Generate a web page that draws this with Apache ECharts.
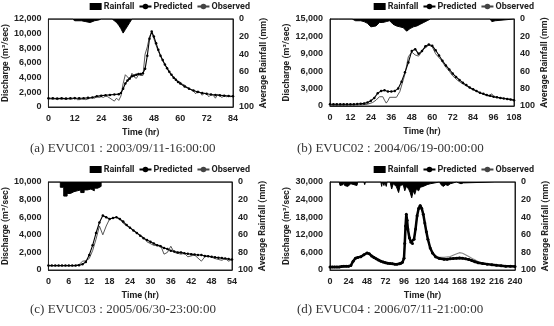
<!DOCTYPE html>
<html><head><meta charset="utf-8">
<script src="https://cdn.jsdelivr.net/npm/echarts@6/dist/echarts.min.js"></script>
<style>html,body{margin:0;padding:0;background:#fff}#c{width:554px;height:326px}</style>
</head><body><div id="c"></div>
<script>
// ---------- Data ----------
const captions = ['(a) EVUC01 : 2003/09/11-16:00:00','(b) EVUC02 : 2004/06/19-00:00:00','(c) EVUC03 : 2005/06/30-23:00:00','(d) EVUC04 : 2006/07/11-21:00:00'];
const xMaxes = [84,108,54,240];
const xSteps = [12,12,6,24];
const qMaxes = [12000,15000,10000,30000];
const qSteps = [2000,3000,2000,6000];

// (a) EVUC01
const rainA = [[0,0],[11,0],[12,2],[15,2],[17,3],[19,4],[21,2],[23,1],[24,0],[29,0],[30,2],[31,4],[32,7],[33,11],[34,16],[35,12],[36,8],[37,4],[38,0],[84,0]];
const obsA = [[0,1100],[1,1100],[2,1050],[3,1100],[4,1000],[5,1100],[6,1050],[7,1100],[8,1000],[9,1100],[10,1050],[11,1100],[12,1350],[13,1000],[14,1000],[15,1050],[16,1100],[17,1000],[18,1100],[19,1200],[20,1300],[21,1200],[22,1400],[23,1300],[24,1400],[25,1300],[26,1500],[27,1400],[28,1200],[29,1000],[30,800],[31,1200],[32,900],[33,1500],[34,3200],[35,4400],[36,4100],[37,3700],[38,4600],[39,4100],[40,3900],[41,4400],[42,4300],[43,4300],[44,7200],[45,8200],[46,9600],[47,10200],[48,9300],[49,8400],[50,7600],[51,7000],[52,6300],[53,5800],[54,5200],[55,4800],[56,4300],[57,4100],[58,3800],[59,3500],[60,3400],[61,3100],[62,3000],[63,2700],[64,2600],[65,2300],[66,2200],[67,1800],[68,2200],[69,2000],[70,1600],[71,1900],[72,1800],[73,1400],[74,1700],[75,1600],[76,1200],[77,1700],[78,1500],[79,1300],[80,1600],[81,1400],[82,1500],[83,1400],[84,1500]];
const predA = [[0,1200],[2,1200],[4,1150],[6,1200],[8,1150],[10,1200],[12,1200],[14,1200],[16,1200],[18,1250],[20,1300],[22,1450],[24,1550],[26,1600],[28,1650],[30,1700],[32,1750],[33,1900],[34,2500],[35,3200],[36,3600],[37,3900],[38,4200],[39,4300],[40,4400],[41,4500],[42,4500],[43,4600],[44,5200],[45,7000],[46,9300],[47,10300],[48,9600],[49,8700],[50,7800],[51,7000],[52,6400],[53,5800],[54,5300],[55,4800],[56,4400],[57,4000],[58,3700],[59,3400],[60,3200],[62,2800],[64,2500],[66,2250],[68,2050],[70,1900],[72,1800],[74,1700],[76,1650],[78,1600],[80,1550],[82,1500],[84,1450]];

// (b) EVUC02
const rainB = [[0,0],[5,0],[6,1],[7,0],[13,0],[15,2],[18,2],[20,3],[22,5],[24,9],[25,11],[27,8],[29,4],[31,4],[33,3],[35,2],[37,6],[39,8],[41,9],[43,10],[45,14],[47,11],[49,9],[51,8],[53,6],[55,4],[57,2],[59,0],[94,0],[95,3],[96,5],[97,2],[98,0],[108,0]];
const obsB = [[0,100],[6,100],[12,150],[18,200],[22,300],[25,600],[27,1000],[29,1600],[31,1600],[32,1000],[33,500],[34,900],[35,1500],[37,1500],[39,1500],[41,2500],[43,4500],[44,5500],[46,8500],[48,9300],[50,8800],[52,8600],[55,9800],[58,10500],[60,10200],[62,9000],[65,8000],[68,6700],[70,6000],[72,5200],[75,4400],[78,3800],[81,3300],[84,2800],[87,2400],[90,2000],[93,1700],[95,2100],[96,1600],[99,1400],[102,1300],[105,1200],[108,1100]];
const predB = [[0,300],[2,300],[4,300],[6,300],[8,300],[10,300],[12,300],[14,300],[16,350],[18,400],[20,450],[22,600],[24,900],[26,1400],[28,2200],[30,2600],[32,2700],[34,2500],[36,2500],[38,2600],[40,3000],[42,4200],[44,5800],[46,7500],[48,9500],[50,9800],[52,9000],[54,9500],[56,10300],[58,10600],[60,10400],[62,9600],[64,8700],[66,7800],[68,7000],[70,6300],[72,5600],[74,5000],[76,4500],[78,4000],[80,3600],[82,3200],[84,2900],[86,2600],[88,2300],[90,2100],[92,1900],[94,1750],[96,1600],[98,1500],[100,1400],[102,1300],[104,1200],[106,1100],[108,1000]];

// (c) EVUC03 (rain value at x holds for hour x..x+1)
const rainC = [[0,0],[3.5,6],[4.5,16],[5.5,13],[6.5,11],[7.5,10],[8.5,9],[9.5,12],[10.5,9],[11.5,8],[12.5,10],[13.5,7],[14.5,5],[15.5,0],[54,0]];
const obsC = [[0,500],[2,500],[4,500],[6,500],[8,500],[9,600],[10,1000],[11,1050],[12,1300],[13,2200],[14,3500],[15,5000],[16,4000],[17,5000],[18,5800],[20,6000],[21,5800],[22,5300],[24,4800],[26,4200],[28,3700],[29,3200],[31,2800],[33,2800],[34,1800],[35,2000],[36,2700],[37,2000],[39,1800],[40,1900],[41,1500],[43,1700],[45,1000],[46,1500],[47,1600],[49,1300],[51,1100],[52,1300],[53,1000],[54,1200]];
const predC = [[0,500],[1,500],[2,500],[3,500],[4,500],[5,500],[6,500],[7,500],[8,500],[9,550],[10,650],[11,900],[12,1700],[13,2800],[14,4200],[15,5400],[16,6200],[17,6000],[18,5800],[19,5900],[20,6000],[21,5800],[22,5500],[23,5100],[24,4800],[25,4500],[26,4200],[27,3900],[28,3600],[29,3400],[30,3200],[31,3000],[32,2800],[33,2700],[34,2500],[35,2400],[36,2200],[37,2100],[38,2000],[39,2000],[40,1900],[41,1850],[42,1800],[43,1750],[44,1700],[45,1700],[46,1600],[47,1550],[48,1500],[49,1450],[50,1400],[51,1350],[52,1300],[53,1250],[54,1200]];

// (d) EVUC04
const rainD = [[0,0],[12,0],[13,4],[15,5],[17,3],[18,0],[19,4],[21,2],[23,5],[25,3],[27,2],[29,4],[31,3],[33,2],[35,4],[36,0],[44,0],[45,3],[46,0],[66,0],[67,5],[68,0],[70,4],[71,0],[73,5],[74,0],[78,0],[80,8],[82,2],[84,3],[86,5],[89,12],[91,4],[93,6],[95,3],[97,10],[99,5],[102,8],[104,12],[106,18],[108,10],[110,14],[112,8],[115,10],[117,6],[119,8],[121,5],[123,4],[126,3],[130,2],[132,0],[142,0],[144,3],[147,5],[150,3],[153,4],[156,2],[158,0],[164,0],[166,2],[170,2],[173,1],[174,0],[214,0],[216,2],[218,0],[240,0]];
const obsD = [[0,1100],[12,1100],[18,1400],[24,1400],[27,1600],[30,3000],[33,4000],[36,4300],[40,4600],[44,5300],[48,5900],[51,5600],[54,4900],[60,3900],[66,3100],[72,2600],[78,2200],[84,2000],[90,2100],[94,2600],[96,4000],[97,9000],[98,15000],[99,18500],[100,17000],[101,14000],[103,11000],[105,9500],[107,9000],[109,10500],[111,14000],[113,18500],[115,21000],[117,22000],[119,21000],[121,19000],[123,16000],[125,13000],[127,10500],[130,7500],[133,5900],[137,4700],[142,4300],[148,4300],[156,4600],[162,5300],[168,5900],[172,5700],[180,4600],[186,3700],[192,2900],[198,2400],[204,2100],[216,1700],[228,1400],[240,1300]];
const predD = [[0,1000],[3,1000],[6,1000],[9,1000],[12,1000],[15,1200],[18,1300],[21,1300],[24,1300],[27,1500],[30,3000],[33,4000],[36,4300],[40,4500],[44,5200],[48,5800],[51,5500],[54,4800],[57,4300],[60,3800],[63,3400],[66,3000],[69,2700],[72,2500],[75,2300],[78,2200],[81,2100],[84,2000],[87,2000],[90,2100],[92,2300],[94,2600],[96,4000],[97,9000],[98,15000],[99,19000],[100,17000],[101,14000],[103,11000],[105,9500],[107,9000],[109,10500],[111,14000],[113,18500],[115,21000],[117,22000],[119,21000],[121,19000],[123,16000],[125,13000],[127,10500],[130,7500],[133,5800],[137,4500],[142,3900],[148,3700],[152,3700],[156,3800],[160,3900],[164,4000],[168,4100],[172,4000],[176,3800],[180,3600],[184,3200],[188,2800],[192,2500],[198,2200],[204,2000],[210,1800],[216,1600],[222,1450],[228,1300],[234,1250],[240,1200]];

const rains = [rainA, rainB, rainC, rainD];
const obss = [obsA, obsB, obsC, obsD];
const preds = [predA, predB, predC, predD];

// ---------- Layout ----------
const grids = [
  {left:48, width:185, top:19, height:88},
  {left:330, width:184, top:19, height:87},
  {left:48, width:184, top:182, height:88},
  {left:330, width:185, top:182, height:88}
];
const legendRight = [304, 20, 304, 20];
const captionPos = [[30,150],[297,150],[30,311],[297,311]];

const FONT = '"Liberation Sans", Arial, sans-serif';
const lab = {fontFamily: FONT, fontWeight:'bold', fontSize:9, color:'#222'};
const nameStyle = {fontFamily: 'Roboto, "Liberation Sans", sans-serif', fontWeight:'bold', fontSize:9, color:'#222'};

const option = {
  animation:false,
  backgroundColor:'#fff',
  grid: grids.map(g => Object.assign({show:true, borderColor:'#222', borderWidth:1, containLabel:false}, g)),
  legend: grids.map((g,i) => ({
    top: g.top - 17, right: legendRight[i], padding:0,
    itemWidth: 12, itemHeight: 7, itemGap: 4,
    textStyle: Object.assign({}, nameStyle, {padding:[0,0,0,-3]}),
    data: [{name:'Rainfall', icon:'rect', itemStyle:{color:'#000'}}, 'Predicted', 'Observed']
  })),
  xAxis: grids.map((g,i) => ({
    gridIndex:i, type:'value', min:0, max:xMaxes[i], interval:xSteps[i],
    name:'Time (hr)', nameLocation:'middle', nameGap:21,
    nameTextStyle: nameStyle,
    axisLine:{show:true, lineStyle:{color:'#222'}},
    axisTick:{show:false},
    splitLine:{show:false},
    axisLabel: Object.assign({margin:7}, lab)
  })),
  yAxis: [].concat(...grids.map((g,i) => [
    {gridIndex:i, type:'value', min:0, max:qMaxes[i], interval:qSteps[i],
     name:'Discharge (m³/sec)', nameLocation:'middle', nameGap:34,
     nameTextStyle: nameStyle,
     axisLine:{show:true, lineStyle:{color:'#222'}}, axisTick:{show:false}, splitLine:{show:false},
     axisLabel: Object.assign({margin:7, formatter: v => v.toLocaleString('en-US')}, lab)},
    {gridIndex:i, type:'value', min:0, max:100, interval:20, inverse:true, position:'right',
     name:'Average Rainfall (mm)', nameLocation:'middle', nameGap:26, nameRotate:90,
     nameTextStyle: nameStyle,
     axisLine:{show:true, lineStyle:{color:'#222'}}, axisTick:{show:false}, splitLine:{show:false},
     axisLabel: Object.assign({margin:6}, lab)}
  ])),
  series: [].concat(...grids.map((g,i) => [
    {name:'Rainfall', type:'line', xAxisIndex:i, yAxisIndex:2*i+1, data:rains[i],
     step: i===2 ? 'end' : false, symbol:'none',
     lineStyle:{color:'#000', width:1}, itemStyle:{color:'#000'},
     areaStyle:{color:'#000', opacity:1, origin:'start'}},
    {name:'Observed', type:'line', xAxisIndex:i, yAxisIndex:2*i, data:obss[i],
     symbol:'none', lineStyle:{color: i===3 ? '#888' : '#444', width: i===3 ? 1.2 : 0.9}, itemStyle:{color:'#444'}, z:3},
    {name:'Predicted', type:'line', xAxisIndex:i, yAxisIndex:2*i, data:preds[i],
     symbol:'circle', symbolSize: i===3 ? 3 : 2.5, showSymbol:true,
     lineStyle:{color:'#000', width: i===3 ? 2.5 : 1.1}, itemStyle:{color:'#000'}, z:4}
  ])),
  graphic: captions.map((t,i) => ({
    type:'text', left: captionPos[i][0], top: captionPos[i][1] - 8,
    style:{text:t, fill:'#333', font:'13px "Liberation Serif", "DejaVu Serif", serif'}
  }))
};

const chart = echarts.init(document.getElementById('c'), null, {renderer:'canvas'});
chart.setOption(option);
</script>
</body></html>
